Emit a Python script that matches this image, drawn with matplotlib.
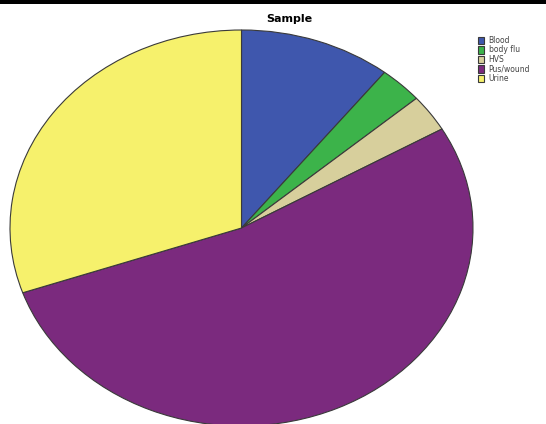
import matplotlib
matplotlib.use("Agg")
import matplotlib.pyplot as plt
from matplotlib.patches import Rectangle

# sample counts (clockwise from 12 o'clock)
labels = ["Blood", "body flu", "HVS", "Pus/wound", "Urine"]
counts = [7, 2, 2, 35, 20]
colors = ["#3F57AD", "#3CB34A", "#D7CF9C", "#7B2A7E", "#F6F16C"]

W, H = 546, 424
fig = plt.figure(figsize=(W/100, H/100), dpi=100)

# ellipse bounding box in pixels: x 10..473, y 30..426
x0, x1, y0, y1 = 10, 473, 30, 426
ax = fig.add_axes([x0/W, 1 - y1/H, (x1 - x0)/W, (y1 - y0)/H])
wedges, _ = ax.pie(counts, colors=colors, startangle=90, counterclock=False,
                   wedgeprops=dict(edgecolor="#3a3a3a", linewidth=0.8))
for w in wedges:
    w.set_clip_on(False)
ax.set_aspect("auto")
ax.set_xlim(-1, 1)
ax.set_ylim(-1, 1)
ax.axis("off")

fig.text(289/W, 1 - 19/H, "Sample", ha="center", va="center",
         fontsize=8, fontweight="bold")

# black strip at the top edge
fig.patches.append(Rectangle((0, 1 - 4/H), 1, 4/H, transform=fig.transFigure,
                             facecolor="black", edgecolor="none"))

leg = fig.legend(wedges, labels, loc="upper left",
                 bbox_to_anchor=(474/W, 1 - 32/H), frameon=False,
                 fontsize=5.5, handlelength=0.8, handleheight=1.1,
                 handletextpad=0.6, labelspacing=0.08, borderpad=0)
for t in leg.get_texts():
    t.set_color("#444444")

fig.savefig("out.png", dpi=100)
